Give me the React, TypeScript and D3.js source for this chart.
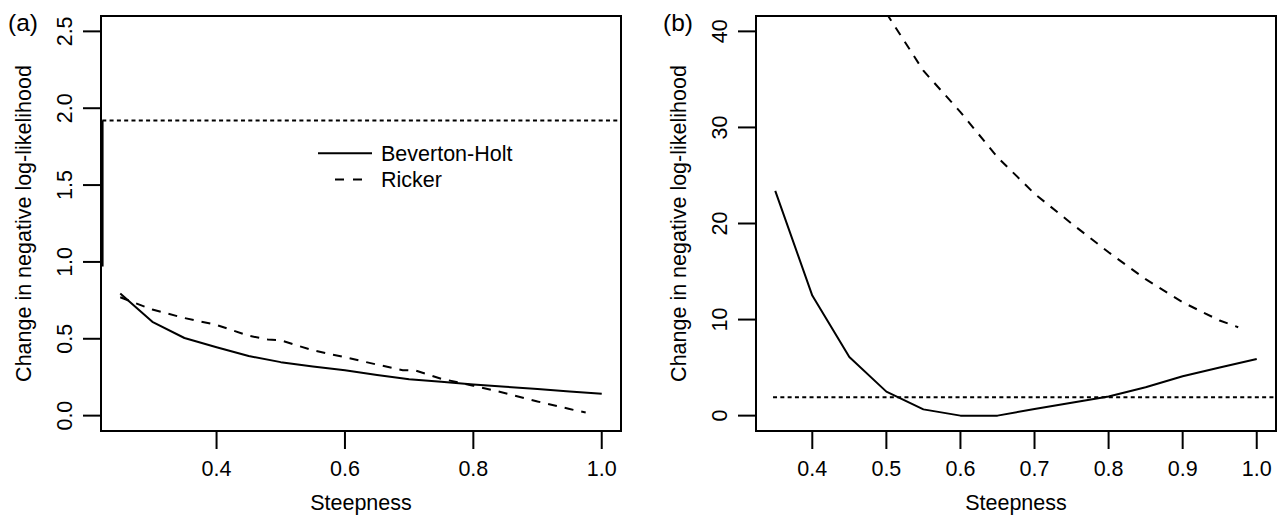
import React from "react";
import * as d3 from "d3";

// ---------- data ----------
const bhStepA = [0.25, 0.3, 0.35, 0.4, 0.45, 0.5, 0.55, 0.6, 0.65, 0.7, 0.75, 0.8, 0.85, 0.9, 0.95, 1.0];
const bhValA = [0.795, 0.61, 0.505, 0.445, 0.388, 0.348, 0.32, 0.295, 0.265, 0.237, 0.22, 0.203, 0.188, 0.173, 0.157, 0.142];
const rkStepA = [0.25, 0.3, 0.35, 0.4, 0.45, 0.48, 0.5, 0.55, 0.6, 0.65, 0.69, 0.71, 0.75, 0.8, 0.85, 0.9, 0.95, 0.975];
const rkValA = [0.77, 0.69, 0.635, 0.59, 0.52, 0.495, 0.49, 0.425, 0.38, 0.332, 0.296, 0.293, 0.24, 0.195, 0.146, 0.092, 0.043, 0.02];
const markerA = { x: 0.222, y0: 1.92, y1: 0.97 };
const thresholdA = 1.92;

const bhStepB = [0.35, 0.4, 0.45, 0.5, 0.55, 0.6, 0.65, 0.7, 0.75, 0.8, 0.85, 0.9, 0.95, 1.0];
const bhValB = [23.4, 12.5, 6.1, 2.5, 0.65, 0.0, 0.0, 0.7, 1.35, 2.0, 2.95, 4.1, 5.0, 5.9];
const rkStepB = [0.5, 0.55, 0.6, 0.65, 0.7, 0.75, 0.8, 0.85, 0.9, 0.95, 0.975];
const rkValB = [41.9, 35.9, 31.6, 26.9, 23.1, 20.0, 17.0, 14.2, 11.8, 9.9, 9.2];
const thresholdB = 1.92;

const xTicksA = [0.4, 0.6, 0.8, 1.0];
const yTicksA = [0, 0.5, 1.0, 1.5, 2.0, 2.5];
const xTicksB = [0.4, 0.5, 0.6, 0.7, 0.8, 0.9, 1.0];
const yTicksB = [0, 10, 20, 30, 40];

const legendLabels = ["Beverton-Holt", "Ricker"];
const xLabel = "Steepness";
const yLabel = "Change in negative log-likelihood";

const FONT = "'Liberation Sans', Arial, Helvetica, sans-serif";
const FS = 21.5;
const DASH = "9 8";
const DOT = "4 3.3";

type PanelProps = {
  id: string;
  tag: string;
  left: number;
  xDomain: [number, number];
  yDomain: [number, number];
  xTicks: number[];
  yTicks: number[];
  xFmt: (v: number) => string;
  yFmt: (v: number) => string;
  bh: [number[], number[]];
  rk: [number[], number[]];
  threshold: number;
  thresholdFrom: number;
  children?: (x: d3.ScaleLinear<number, number>, y: d3.ScaleLinear<number, number>) => React.ReactNode;
};

const TOP = 16;
const BOTTOM = 431;
const WIDTH = 520;
const TICK = 18;

function Panel(p: PanelProps) {
  const x = d3.scaleLinear().domain(p.xDomain).range([p.left, p.left + WIDTH]);
  const y = d3.scaleLinear().domain(p.yDomain).range([BOTTOM, TOP]);
  const line = d3
    .line<[number, number]>()
    .x((d) => x(d[0]))
    .y((d) => y(d[1]));
  const bhPts = p.bh[0].map((s, i) => [s, p.bh[1][i]] as [number, number]);
  const rkPts = p.rk[0].map((s, i) => [s, p.rk[1][i]] as [number, number]);
  const x0 = p.left;
  const x1 = p.left + WIDTH;
  const midY = (TOP + BOTTOM) / 2;
  const midX = (x0 + x1) / 2;
  return (
    <g>
      <defs>
        <clipPath id={"clip" + p.id}>
          <rect x={x0} y={TOP} width={WIDTH} height={BOTTOM - TOP} />
        </clipPath>
      </defs>
      <g clipPath={`url(#clip${p.id})`} fill="none" stroke="#000">
        <line
          x1={x(p.thresholdFrom)}
          x2={x1}
          y1={y(p.threshold)}
          y2={y(p.threshold)}
          strokeWidth={2}
          strokeDasharray={DOT}
        />
        <path d={line(bhPts) || ""} strokeWidth={2} strokeLinejoin="round" />
        <path d={line(rkPts) || ""} strokeWidth={2} strokeDasharray={DASH} />
        {p.children && p.children(x, y)}
      </g>
      <rect x={x0} y={TOP} width={WIDTH} height={BOTTOM - TOP} fill="none" stroke="#000" strokeWidth={2} />
      <g stroke="#000" strokeWidth={2}>
        {p.xTicks.map((t) => (
          <line key={"xt" + t} x1={x(t)} x2={x(t)} y1={BOTTOM} y2={BOTTOM + TICK} />
        ))}
        {p.yTicks.map((t) => (
          <line key={"yt" + t} x1={x0 - TICK} x2={x0} y1={y(t)} y2={y(t)} />
        ))}
      </g>
      <g fontFamily={FONT} fontSize={FS} fill="#000">
        {p.xTicks.map((t) => (
          <text key={"xl" + t} x={x(t)} y={476} textAnchor="middle">
            {p.xFmt(t)}
          </text>
        ))}
        {p.yTicks.map((t) => (
          <text
            key={"yl" + t}
            transform={`translate(${x0 - 29},${y(t)}) rotate(-90)`}
            textAnchor="middle"
          >
            {p.yFmt(t)}
          </text>
        ))}
        <text x={midX} y={510} textAnchor="middle">
          {xLabel}
        </text>
        <text transform={`translate(${x0 - 70.5},${midY}) rotate(-90)`} textAnchor="middle">
          {yLabel}
        </text>
        <text x={x0 - 93} y={31} fontSize={24.5}>
          {p.tag}
        </text>
      </g>
    </g>
  );
}

export default function App() {
  const f1 = d3.format(".1f");
  const f0 = d3.format("d");
  return (
    <svg
      width={1284}
      height={519}
      viewBox="0 0 1284 519"
      style={{ position: "absolute", left: 0, top: 0, background: "#fff" }}
    >
      <rect width={1284} height={519} fill="#fff" />
      <Panel
        id="a"
        tag="(a)"
        left={101}
        xDomain={[0.22, 1.03]}
        yDomain={[-0.1, 2.6]}
        xTicks={xTicksA}
        yTicks={yTicksA}
        xFmt={f1}
        yFmt={f1}
        bh={[bhStepA, bhValA]}
        rk={[rkStepA, rkValA]}
        threshold={thresholdA}
        thresholdFrom={markerA.x}
      >
        {(x, y) => (
          <line
            x1={x(markerA.x)}
            x2={x(markerA.x)}
            y1={y(markerA.y0)}
            y2={y(markerA.y1)}
            strokeWidth={2.6}
          />
        )}
      </Panel>
      <Panel
        id="b"
        tag="(b)"
        left={756}
        xDomain={[0.324, 1.026]}
        yDomain={[-1.6, 41.6]}
        xTicks={xTicksB}
        yTicks={yTicksB}
        xFmt={f1}
        yFmt={f0}
        bh={[bhStepB, bhValB]}
        rk={[rkStepB, rkValB]}
        threshold={thresholdB}
        thresholdFrom={0.347}
      />
      <g stroke="#000" strokeWidth={2}>
        <line x1={318} x2={372} y1={153.3} y2={153.3} />
        <line x1={335} x2={363} y1={179.5} y2={179.5} strokeDasharray="9 9" />
      </g>
      <g fontFamily={FONT} fontSize={FS} fill="#000">
        <text x={381} y={161}>{legendLabels[0]}</text>
        <text x={381} y={187}>{legendLabels[1]}</text>
      </g>
    </svg>
  );
}
